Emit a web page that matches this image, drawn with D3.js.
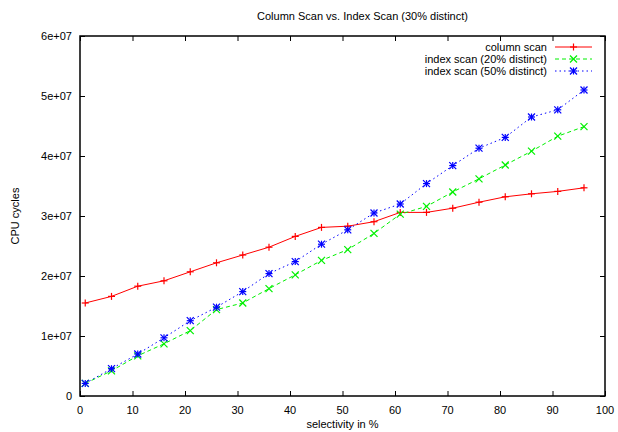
<!DOCTYPE html>
<html>
<head>
<meta charset="utf-8">
<script src="https://cdn.jsdelivr.net/npm/d3@7"></script>
<style>
  body { margin: 0; background: #fff; }
  text { font-family: "Liberation Sans", Arial, sans-serif; font-size: 11px; fill: #000; }
</style>
</head>
<body>
<div id="chart"></div>
<script>
// selectivity (%) on x axis
var selectivity = [1, 6, 11, 16, 21, 26, 31, 36, 41, 46, 51, 56, 61, 66, 71, 76, 81, 86, 91, 96];

// cpu cycles
var columnScan = [15.5e6, 16.6e6, 18.3e6, 19.2e6, 20.7e6, 22.2e6, 23.5e6, 24.8e6, 26.6e6, 28.1e6,
                  28.3e6, 29.05e6, 30.6e6, 30.6e6, 31.3e6, 32.3e6, 33.2e6, 33.7e6, 34.1e6, 34.7e6];
var index20 = [2.1e6, 4.2e6, 6.7e6, 8.7e6, 10.9e6, 14.4e6, 15.5e6, 17.9e6, 20.2e6, 22.6e6,
               24.4e6, 27.1e6, 30.3e6, 31.6e6, 34.0e6, 36.2e6, 38.5e6, 40.8e6, 43.3e6, 44.9e6];
var index50 = [2.1e6, 4.55e6, 7.0e6, 9.7e6, 12.55e6, 14.8e6, 17.4e6, 20.4e6, 22.4e6, 25.3e6,
               27.7e6, 30.5e6, 32.0e6, 35.4e6, 38.4e6, 41.3e6, 43.1e6, 46.5e6, 47.7e6, 51.0e6];

var seriesNames = ["column scan", "index scan (20% distinct)", "index scan (50% distinct)"];
var xTicks = [0, 10, 20, 30, 40, 50, 60, 70, 80, 90, 100];
var yTicks = [0, 1e7, 2e7, 3e7, 4e7, 5e7, 6e7];
var yTickLabels = ["0", "1e+07", "2e+07", "3e+07", "4e+07", "5e+07", "6e+07"];

var width = 618, height = 432;
var margin = {left: 80, right: 13, top: 36, bottom: 36};

var series = [
    {name: seriesNames[0], values: columnScan, color: "#ff0000", dash: null, marker: "plus"},
    {name: seriesNames[1], values: index20, color: "#00f000", dash: "4,3", marker: "cross"},
    {name: seriesNames[2], values: index50, color: "#0000ff", dash: "1.5,3", marker: "star"}
];

var svg = d3.select("#chart").append("svg")
    .attr("width", width)
    .attr("height", height);

var x = d3.scaleLinear().domain([0, 100]).range([margin.left, width - margin.right]);
var y = d3.scaleLinear().domain([0, 6e7]).range([height - margin.bottom, margin.top]);

var tickLen = 5;

// axes with inward ticks, mirrored on top / right like gnuplot
svg.append("g")
    .attr("transform", "translate(0," + y(0) + ")")
    .call(d3.axisTop(x).tickValues(xTicks).tickSize(tickLen).tickFormat(""))
    .call(g => g.select(".domain").remove());
svg.append("g")
    .attr("transform", "translate(0," + y(6e7) + ")")
    .call(d3.axisBottom(x).tickValues(xTicks).tickSize(tickLen).tickFormat(""))
    .call(g => g.select(".domain").remove());
svg.append("g")
    .attr("transform", "translate(" + x(0) + ",0)")
    .call(d3.axisRight(y).tickValues(yTicks).tickSize(tickLen).tickFormat(""))
    .call(g => g.select(".domain").remove());
svg.append("g")
    .attr("transform", "translate(" + x(100) + ",0)")
    .call(d3.axisLeft(y).tickValues(yTicks).tickSize(tickLen).tickFormat(""))
    .call(g => g.select(".domain").remove());

// tick labels
svg.append("g").selectAll("text")
    .data(xTicks)
    .enter().append("text")
    .attr("x", d => x(d))
    .attr("y", y(0) + 18)
    .attr("text-anchor", "middle")
    .text(d => d);

svg.append("g").selectAll("text")
    .data(yTicks)
    .enter().append("text")
    .attr("x", x(0) - 8)
    .attr("y", d => y(d) + 4)
    .attr("text-anchor", "end")
    .text((d, i) => yTickLabels[i]);

// border
svg.append("rect")
    .attr("x", x(0))
    .attr("y", y(6e7))
    .attr("width", x(100) - x(0))
    .attr("height", y(0) - y(6e7))
    .attr("fill", "none")
    .attr("stroke", "#000")
    .attr("stroke-width", 1.5);

// titles
svg.append("text")
    .attr("x", (x(0) + x(100)) / 2 + 20)
    .attr("y", 20)
    .attr("text-anchor", "middle")
    .text("Column Scan vs. Index Scan (30% distinct)");

svg.append("text")
    .attr("x", (x(0) + x(100)) / 2)
    .attr("y", 428)
    .attr("text-anchor", "middle")
    .text("selectivity in %");

svg.append("text")
    .attr("transform", "translate(19," + ((y(0) + y(6e7)) / 2) + ") rotate(-90)")
    .attr("text-anchor", "middle")
    .text("CPU cycles");

function drawMarker(g, type, cx, cy, color) {
    var s = 3.5;
    var segs = [];
    if (type === "plus" || type === "star") {
        segs.push([cx - s, cy, cx + s, cy], [cx, cy - s, cx, cy + s]);
    }
    if (type === "cross" || type === "star") {
        segs.push([cx - s, cy - s, cx + s, cy + s], [cx - s, cy + s, cx + s, cy - s]);
    }
    segs.forEach(function (p) {
        g.append("line")
            .attr("x1", p[0]).attr("y1", p[1])
            .attr("x2", p[2]).attr("y2", p[3])
            .attr("stroke", color)
            .attr("stroke-width", 1.2);
    });
}

var line = d3.line()
    .x(d => x(d[0]))
    .y(d => y(d[1]));

series.forEach(function (s) {
    var pts = selectivity.map((v, i) => [v, s.values[i]]);
    var g = svg.append("g");
    g.append("path")
        .datum(pts)
        .attr("d", line)
        .attr("fill", "none")
        .attr("stroke", s.color)
        .attr("stroke-width", 1)
        .attr("stroke-dasharray", s.dash);
    pts.forEach(p => drawMarker(g, s.marker, x(p[0]), y(p[1]), s.color));
});

// legend, top right
var legend = svg.append("g");
series.forEach(function (s, i) {
    var ly = 47 + i * 12;
    legend.append("text")
        .attr("x", 547)
        .attr("y", ly + 4)
        .attr("text-anchor", "end")
        .text(s.name);
    legend.append("line")
        .attr("x1", 555).attr("x2", 592)
        .attr("y1", ly).attr("y2", ly)
        .attr("stroke", s.color)
        .attr("stroke-width", 1)
        .attr("stroke-dasharray", s.dash);
    drawMarker(legend, s.marker, 573.5, ly, s.color);
});
</script>
</body>
</html>
